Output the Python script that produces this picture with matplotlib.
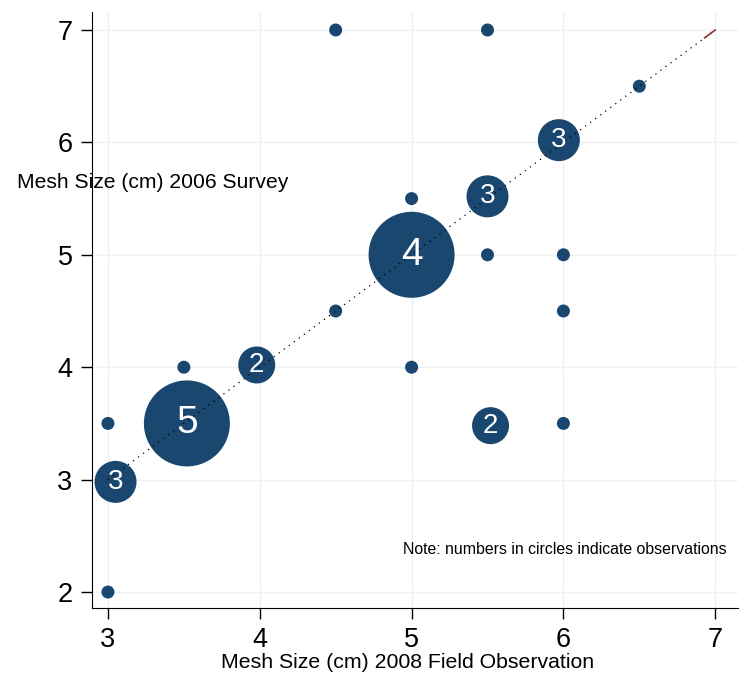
import numpy as np
import matplotlib.pyplot as plt

plt.rcParams['font.family'] = ['Liberation Sans', 'DejaVu Sans']

# Mesh size pairs (2008 field observation vs 2006 survey) and number of observations
field_2008 = [3.0, 3.0, 3.05, 3.52, 3.5, 3.98, 4.5, 4.5, 5.0, 5.0, 5.0, 5.5, 5.5, 5.5, 5.52, 5.97, 6.0, 6.0, 6.0, 6.5]
survey_2006 = [2.0, 3.5, 2.98, 3.5, 4.0, 4.02, 4.5, 7.0, 4.0, 5.0, 5.5, 5.52, 5.0, 7.0, 3.48, 6.02, 5.0, 4.5, 3.5, 6.5]
n_obs = [1, 1, 3, 5, 1, 2, 1, 1, 1, 4, 1, 3, 1, 1, 2, 3, 1, 1, 1, 1]

# bubble diameter (px) and label size (pt) per observation count
diam_px = {1: 13, 2: 37, 3: 42, 4: 86, 5: 86}
label_pt = {2: 20, 3: 20, 4: 28, 5: 28}

navy = '#1a476f'

fig = plt.figure(figsize=(7.55, 6.99), dpi=100)
ax = fig.add_axes([92 / 755, 91 / 699, 646 / 755, 596 / 699])

sizes = [(diam_px[c] * 0.72) ** 2 for c in n_obs]
ax.scatter(field_2008, survey_2006, s=sizes, color=navy, edgecolors='none', zorder=3)

# 45-degree reference line
ax.plot([3, 7], [3, 7], color='black', linestyle=(0, (1, 4)), linewidth=0.9, zorder=4)
ax.plot([6.93, 7], [6.93, 7], color='#90353b', linewidth=1.2, zorder=4)

for x, y, c in zip(field_2008, survey_2006, n_obs):
    if c > 1:
        ax.text(x, y, str(c), color='white', fontsize=label_pt[c],
                ha='center', va='center', zorder=5)

ax.set_xlim(2.895, 7.15)
ax.set_ylim(1.858, 7.16)
ax.set_xticks([3, 4, 5, 6, 7])
ax.set_yticks([2, 3, 4, 5, 6, 7])
ax.tick_params(labelsize=19.5, length=8, width=1, pad=6)
ax.grid(True, color='#eaf2f3', linewidth=1)
ax.set_axisbelow(True)
for side in ['top', 'right']:
    ax.spines[side].set_visible(False)

fig.text(17 / 755, 1 - 183 / 699, 'Mesh Size (cm) 2006 Survey', fontsize=15.2,
         ha='left', va='center')
fig.text(408 / 755, 1 - 662 / 699, 'Mesh Size (cm) 2008 Field Observation', fontsize=15.3,
         ha='center', va='center')
fig.text(727 / 755, 1 - 549 / 699, 'Note: numbers in circles indicate observations',
         fontsize=11.4, ha='right', va='center')

fig.savefig('out.png', dpi=100)
